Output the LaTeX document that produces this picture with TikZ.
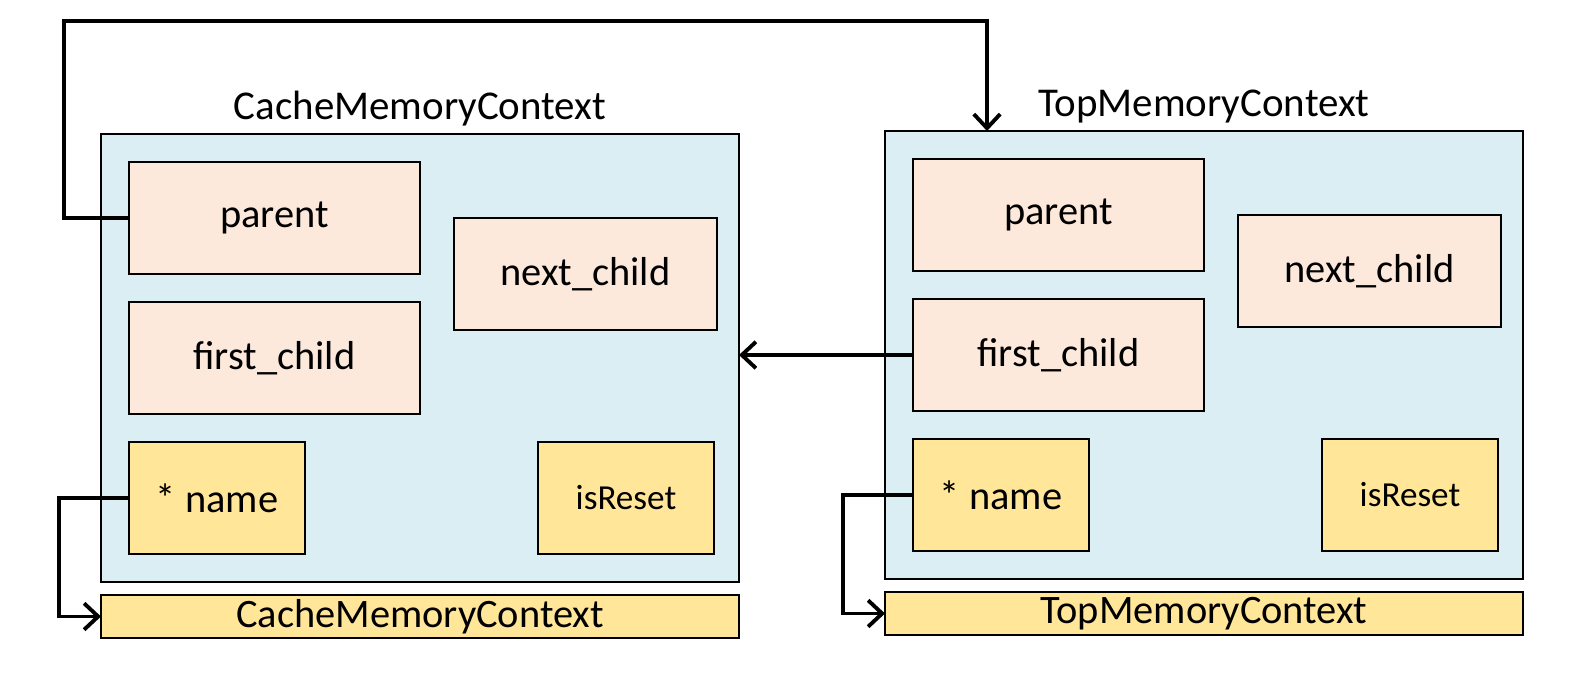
\documentclass[tikz,border=0pt]{standalone}
\usepackage{fontspec}
\setmainfont{Carlito}
\usetikzlibrary{arrows.meta,calc}
\definecolor{ctxblue}{HTML}{DAEEF3}
\definecolor{fieldpeach}{HTML}{FCE9DC}
\definecolor{fieldyellow}{HTML}{FFE699}
\tikzset{
  ctx/.style={draw=black,line width=0.6pt,fill=ctxblue,inner sep=0pt,outer sep=0pt},
  pfield/.style={draw=black,line width=0.6pt,fill=fieldpeach,inner sep=0pt,outer sep=0pt,font=\fontsize{23}{27}\selectfont},
  yfield/.style={draw=black,line width=0.6pt,fill=fieldyellow,inner sep=0pt,outer sep=0pt,font=\fontsize{23}{27}\selectfont},
  small/.style={font=\fontsize{20}{24}\selectfont},
  ttl/.style={inner sep=0pt,anchor=base,font=\fontsize{23.3}{27}\selectfont},
  conn/.style={line width=2.2pt,-{Straight Barb[length=8pt,width=15pt]}},
}
\begin{document}
\begin{tikzpicture}[x=0.02cm,y=-0.02cm]
\useasboundingbox (0,0) rectangle (1591,679);
% left panel
\node[ctx,minimum width=638*0.02cm,minimum height=448*0.02cm] (Louter) at (420,358) {};
\node[ttl] (Ltitle) at (420,119) {CacheMemoryContext};
\node[pfield,minimum width=291*0.02cm,minimum height=112*0.02cm] (Lparent) at (274.5,218) {parent};
\node[pfield,minimum width=263*0.02cm,minimum height=112*0.02cm] (Lnext) at (585.5,274) {next\_child};
\node[pfield,minimum width=291*0.02cm,minimum height=112*0.02cm] (Lfirst) at (274.5,358) {first\_child};
\node[yfield,minimum width=176*0.02cm,minimum height=112*0.02cm] (Lname) at (217,498) {* name};
\node[yfield,small,minimum width=176*0.02cm,minimum height=112*0.02cm] (Lreset) at (626,498) {isReset};
\node[yfield,minimum width=638*0.02cm,minimum height=43*0.02cm] (Lbar) at (420,616.5) {CacheMemoryContext};
% right panel
\node[ctx,minimum width=638*0.02cm,minimum height=448*0.02cm] (Router) at (1204,355) {};
\node[ttl] (Rtitle) at (1204,116) {TopMemoryContext};
\node[pfield,minimum width=291*0.02cm,minimum height=112*0.02cm] (Rparent) at (1058.5,215) {parent};
\node[pfield,minimum width=263*0.02cm,minimum height=112*0.02cm] (Rnext) at (1369.5,271) {next\_child};
\node[pfield,minimum width=291*0.02cm,minimum height=112*0.02cm] (Rfirst) at (1058.5,355) {first\_child};
\node[yfield,minimum width=176*0.02cm,minimum height=112*0.02cm] (Rname) at (1001,495) {* name};
\node[yfield,small,minimum width=176*0.02cm,minimum height=112*0.02cm] (Rreset) at (1410,495) {isReset};
\node[yfield,minimum width=638*0.02cm,minimum height=43*0.02cm] (Rbar) at (1204,613.5) {TopMemoryContext};
% connectors
\coordinate (c1) at (64,21);
\coordinate (c2) at (987,21);
\draw[conn] (Lparent.west) -| (c1) -- (c2) -- (c2 |- Router.north);
\draw[conn] (Rfirst.west) -- (Rfirst.west -| Louter.east);
\coordinate (c3) at (59,498);
\draw[conn] (Lname.west) -- (c3) |- (Lbar.west);
\coordinate (c4) at (843,495);
\draw[conn] (Rname.west) -- (c4) |- (Rbar.west);
\end{tikzpicture}
\end{document}
